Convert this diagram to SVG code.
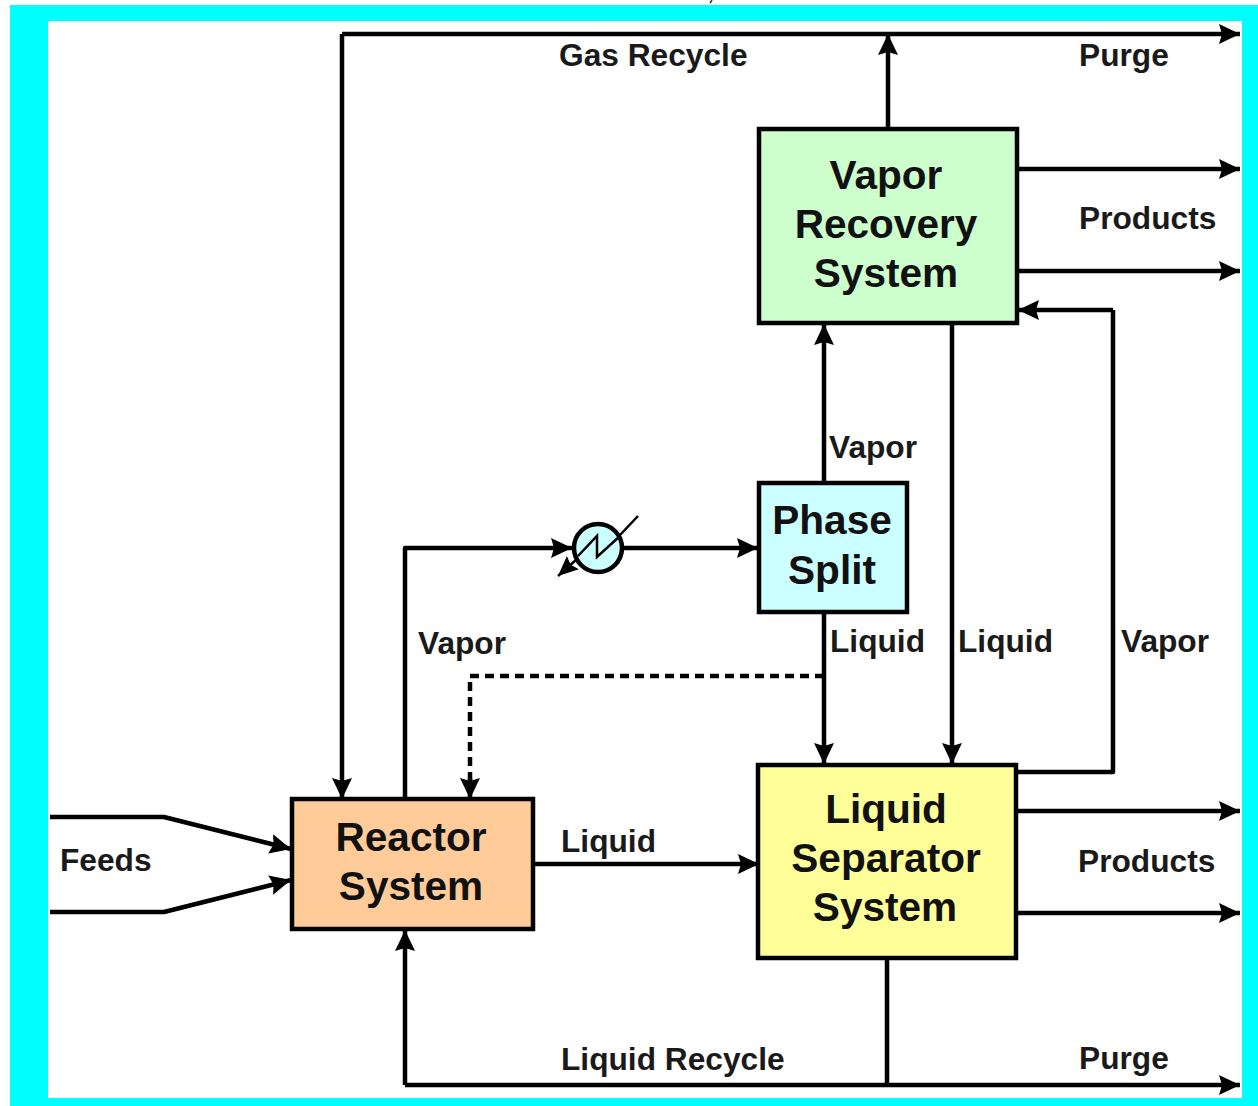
<svg xmlns="http://www.w3.org/2000/svg" width="1258" height="1106" viewBox="0 0 1258 1106">
<defs>
<marker id="arrow" markerUnits="userSpaceOnUse" markerWidth="24" markerHeight="24" refX="21" refY="12" orient="auto">
<path d="M0 2 L21 12 L0 22 L3 12 Z" fill="#000"/>
</marker>
<marker id="arrow-small" markerUnits="userSpaceOnUse" markerWidth="24" markerHeight="22" refX="20" refY="11" orient="auto">
<path d="M0 2 L20 11 L0 20 L3 11 Z" fill="#000"/>
</marker>
</defs>
<style>
.c{fill:none;stroke:#000;stroke-width:4.5;stroke-linejoin:round;marker-end:url(#arrow)}
.p{fill:none;stroke:#000;stroke-width:4.5;stroke-linejoin:round}
.b{stroke:#000;stroke-width:4.5}
.n{font-family:"Liberation Sans",Arial,sans-serif;font-weight:700;font-size:40.6px;fill:#111;text-anchor:middle}
.l{font-family:"Liberation Sans",Arial,sans-serif;font-weight:700;font-size:31.7px;fill:#1a1a1a}
</style>
<rect x="10" y="5" width="1248" height="1101" fill="#00ffff"/>
<rect x="48" y="21" width="1194" height="1077" fill="#fff"/>
<path d="M712 0 L710 3" stroke="#333" stroke-width="1.5" fill="none"/>
<g id="connectors">
<path class="c" d="M342 34 L1240 34"/>
<path class="c" d="M342 34 L342 799"/>
<path class="c" d="M888 129 L888 34"/>
<path class="c" d="M1017 169 L1240 169"/>
<path class="c" d="M1017 271 L1240 271"/>
<path class="p" d="M1016 772 L1113 772 L1113 310"/>
<path class="c" d="M1113 310 L1018 310"/>
<path class="c" d="M824 483 L824 324"/>
<path class="c" d="M952 324 L952 764"/>
<path class="c" d="M824 613 L824 764"/>
<path class="c" d="M405 799 L405 548 L572 548"/>
<path class="c" d="M622 548 L758 548"/>
<path d="M824 676 L470 676 L470 780" fill="none" stroke="#000" stroke-width="4.5" stroke-dasharray="9 6"/>
<path d="M470 778 L470 799" class="c"/>
<path class="c" d="M534 864 L759 864"/>
<path class="c" d="M50 817 L164 817 L291 849"/>
<path class="c" d="M50 912 L164 912 L291 880"/>
<path class="c" d="M1016 811 L1240 811"/>
<path class="c" d="M1016 913 L1240 913"/>
<path class="p" d="M887 958 L887 1085"/>
<path class="c" d="M405 1085 L405 930"/>
<path class="c" d="M405 1085 L1240 1085"/>
</g>
<g id="vapor-recovery">
<rect class="b" x="759" y="129" width="258" height="194" fill="#ccffcc"/>
<text class="n" x="886" y="189">Vapor</text>
<text class="n" x="886" y="238">Recovery</text>
<text class="n" x="886" y="287">System</text>
</g>
<g id="phase-split">
<rect class="b" x="759" y="483" width="148" height="129" fill="#ccffff"/>
<text class="n" x="832" y="534">Phase</text>
<text class="n" x="832" y="584">Split</text>
</g>
<g id="reactor">
<rect class="b" x="292" y="799" width="241" height="130" fill="#ffcc99"/>
<text class="n" x="411" y="851">Reactor</text>
<text class="n" x="411" y="900">System</text>
</g>
<g id="liquid-separator">
<rect class="b" x="758" y="765" width="258" height="193" fill="#ffff99"/>
<text class="n" x="886" y="823">Liquid</text>
<text class="n" x="886" y="872">Separator</text>
<text class="n" x="885" y="921">System</text>
</g>
<g id="heat-exchanger">
<circle cx="598" cy="548" r="24" fill="#ccffff" stroke="#000" stroke-width="4.5"/>
<path d="M638 516 L620 535" fill="none" stroke="#000" stroke-width="2.5"/>
<path d="M577 559 L558 576" fill="none" stroke="#000" stroke-width="2.5" marker-end="url(#arrow-small)"/>
<path d="M578 556 L597 536 L597 557 L620 536" fill="none" stroke="#000" stroke-width="2.5"/>
</g>
<g id="labels">
<text class="l" x="559" y="66">Gas Recycle</text>
<text class="l" x="1079" y="66">Purge</text>
<text class="l" x="1079" y="229">Products</text>
<text class="l" x="829" y="458">Vapor</text>
<text class="l" x="418" y="654">Vapor</text>
<text class="l" x="830" y="652">Liquid</text>
<text class="l" x="958" y="652">Liquid</text>
<text class="l" x="1121" y="652">Vapor</text>
<text class="l" x="561" y="852">Liquid</text>
<text class="l" x="60" y="871">Feeds</text>
<text class="l" x="1078" y="872">Products</text>
<text class="l" x="561" y="1070">Liquid Recycle</text>
<text class="l" x="1079" y="1069">Purge</text>
</g>
</svg>
